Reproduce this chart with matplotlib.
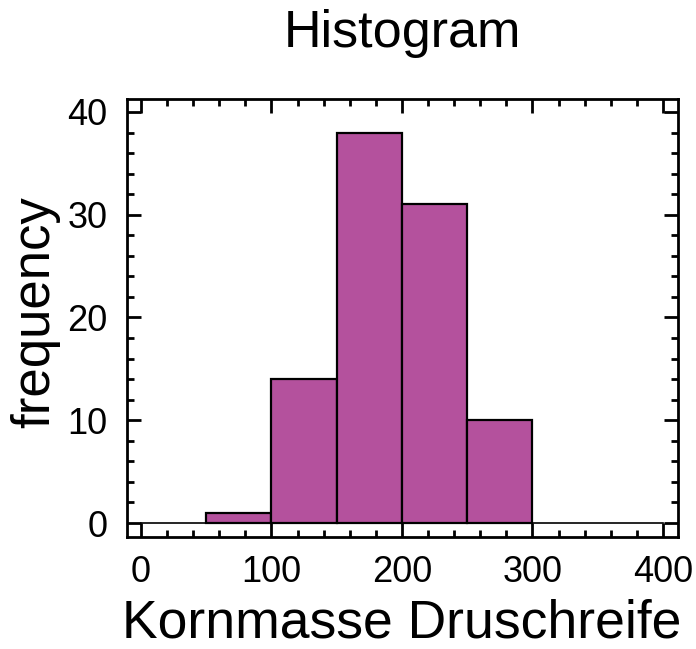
import matplotlib
matplotlib.use("Agg")
import matplotlib.pyplot as plt
from matplotlib.ticker import MultipleLocator

plt.rcParams["font.family"] = ["Liberation Sans", "DejaVu Sans"]

bin_edges = [50, 100, 150, 200, 250, 300]
counts = [1, 14, 38, 31, 10]
bar_color = "#B4519D"

fig = plt.figure(figsize=(6.96, 6.49), dpi=100)
ax = fig.add_axes([127 / 696, 1 - 537 / 649, (678 - 127) / 696, (537 - 99) / 649])

lefts = bin_edges[:-1]
widths = [b - a for a, b in zip(bin_edges[:-1], bin_edges[1:])]
ax.bar(lefts, counts, width=widths, align="edge", color=bar_color,
       edgecolor="black", linewidth=1.6, zorder=2)
ax.plot([0, 400], [0, 0], color="black", linewidth=1.2, zorder=1)

ax.set_xlim(-10.7, 411.5)
ax.set_ylim(-1.36, 41.26)
ax.xaxis.set_major_locator(MultipleLocator(100))
ax.xaxis.set_minor_locator(MultipleLocator(20))
ax.yaxis.set_major_locator(MultipleLocator(10))
ax.yaxis.set_minor_locator(MultipleLocator(2))
ax.tick_params(which="both", direction="in", top=True, right=True,
               width=2, labelsize=26)
ax.tick_params(axis="y", pad=14)
ax.tick_params(axis="x", pad=13)
ax.tick_params(which="major", length=10)
ax.tick_params(which="minor", length=5)
for s in ax.spines.values():
    s.set_linewidth(2)

fig.text(402 / 696, 1 - 638 / 649, "Kornmasse Druschreife", fontsize=38.5,
         ha="center", va="baseline")
fig.text(60 / 696, 1 - 312 / 649, "frequency", fontsize=38,
         rotation=90, ha="right", va="center", rotation_mode="default")
fig.text(402 / 696, 1 - 47 / 649, "Histogram", fontsize=37.5,
         ha="center", va="baseline")

fig.savefig("out.png", dpi=100)
